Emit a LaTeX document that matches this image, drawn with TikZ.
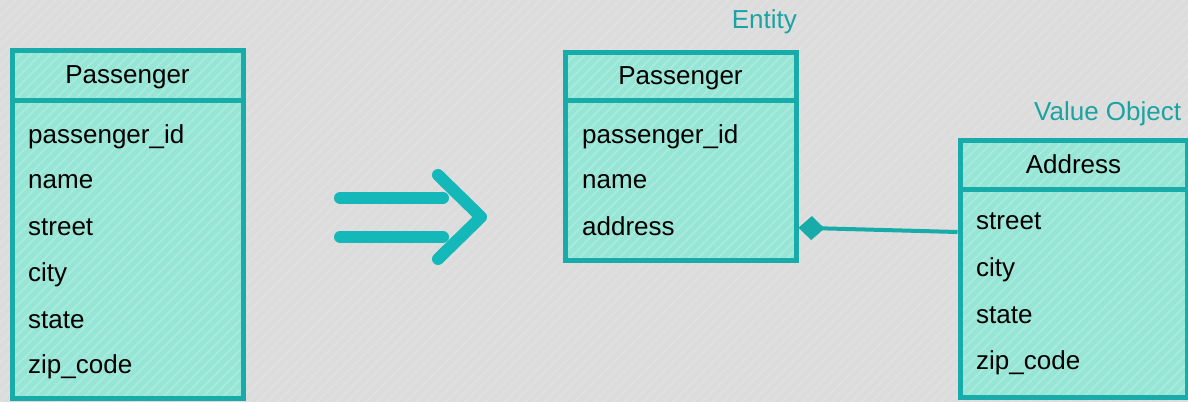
\documentclass[tikz,border=0pt]{standalone}
\usepackage{fontspec}
\setmainfont{Liberation Sans}
\usetikzlibrary{arrows.meta,patterns.meta}

\definecolor{bggray}{HTML}{DCDCDC}
\definecolor{tealline}{HTML}{17ACAA}
\definecolor{tealfill}{HTML}{97E5D5}
\definecolor{tealhatch}{HTML}{A6EBDD}
\definecolor{tealtext}{HTML}{1AA3A3}
\definecolor{tealarrow}{HTML}{14B8B8}

\begin{document}
\begin{tikzpicture}[x=1pt, y=-1pt,
  box/.style={draw=tealline, line width=5pt, preaction={fill=tealfill},
    pattern={Lines[angle=45,distance=7pt,line width=2pt]}, pattern color=tealhatch,
    inner sep=0pt, text depth=0pt, font=\fontsize{26}{30}\selectfont},
  field/.style={anchor=base west, inner sep=0pt, font=\fontsize{26}{30}\selectfont},
  tag/.style={inner sep=0pt, text=tealtext, font=\fontsize{26}{30}\selectfont},
  has/.style={draw=tealline, line width=4pt, -{Diamond[length=26pt,width=24pt]}},
  big/.style={draw=tealarrow, line width=12pt, line cap=round, line join=round}
]

% background
\fill[bggray] (0,0) rectangle (1188,402);
\fill[pattern={Lines[angle=45,distance=7pt,line width=2pt]}, pattern color=white, opacity=0.12]
  (0,0) rectangle (1188,402);
\useasboundingbox (0,0) rectangle (1188,402);

% Flat table
\node[box, minimum width=231pt, minimum height=298pt] (lbody) at (127.5,249) {};
\node[box, minimum width=231pt, minimum height=50pt] (lhead) at (127.5,75) {Passenger};
\node[field] (lid) at (28,143) {passenger\_id};
\node[field] (lname) at (28,188) {name};
\node[field] (lstreet) at (28,235) {street};
\node[field] (lcity) at (28,281) {city};
\node[field] (lstate) at (28,328) {state};
\node[field] (lzip) at (28,373) {zip\_code};

% Big arrow
\draw[big] (340,198) -- (443,198);
\draw[big] (340,237) -- (443,237);
\draw[big] (438,175) -- (481,217) -- (438,259);

% Entity
\node[tag, anchor=base east] (enttag) at (797,28) {Entity};
\node[box, minimum width=231pt, minimum height=160pt] (mbody) at (680.5,180) {};
\node[box, minimum width=231pt, minimum height=48pt] (mhead) at (680.5,76) {Passenger};
\node[field] (mid) at (582,143) {passenger\_id};
\node[field] (mname) at (582,188) {name};
\node[field] (maddr) at (582,235) {address};

% Value object
\node[tag, anchor=base west] (valtag) at (1034,120) {Value Object};
\node[box, minimum width=227pt, minimum height=208pt] (abody) at (1073.5,293) {};
\node[box, minimum width=227pt, minimum height=49pt] (ahead) at (1073.5,164.5) {Address};
\node[field] (astreet) at (976,229) {street};
\node[field] (acity) at (976,276) {city};
\node[field] (astate) at (976,323) {state};
\node[field] (azip) at (976,369) {zip\_code};

% composition
\draw[has] ([yshift=61pt]abody.west) -- ([yshift=-2pt]mbody.east |- maddr.west);

\end{tikzpicture}
\end{document}
